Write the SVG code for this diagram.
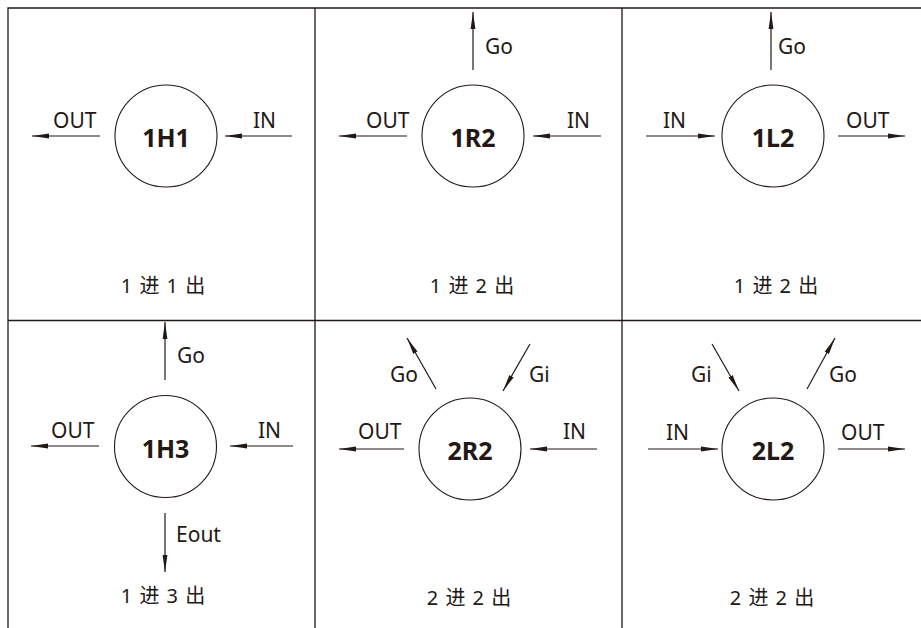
<svg xmlns="http://www.w3.org/2000/svg" width="921" height="628" viewBox="0 0 921 628">
<defs>
<marker id="ah" viewBox="0 0 17 6" refX="17" refY="3" markerWidth="17" markerHeight="6" markerUnits="userSpaceOnUse" orient="auto">
<path d="M0,0.6 L17,3 L0,5.4 z" fill="#231815"/>
</marker>
<style>
.grid{stroke:#231815;stroke-width:1.3;fill:none}
.node{fill:none;stroke:#231815;stroke-width:1.1}
.arr{stroke:#231815;stroke-width:1.2;fill:none;marker-end:url(#ah)}
.lbl{font-family:"Noto Sans","Open Sans",sans-serif;font-size:21px;fill:#231815}
.nm{font-family:"Noto Sans","Open Sans",sans-serif;font-size:25px;font-weight:bold;fill:#231815;text-anchor:middle}
.cap{font-family:"Noto Sans","Noto Sans CJK SC",sans-serif;font-size:20px;fill:#231815;text-anchor:middle;word-spacing:2px}
</style>
</defs>
<rect width="921" height="628" fill="#fff"/>
<g id="grid">
<path class="grid" d="M8,628 V8 H921 M315,8 V628 M622,8 V628 M8,320.5 H921"/>
</g>
<g id="n1H1">
<circle class="node" cx="166" cy="136" r="51"/>
<text class="nm" x="166" y="147">1H1</text>
<text class="cap" x="163" y="293">1 <tspan font-family="Noto Sans CJK SC">进</tspan> 1 <tspan font-family="Noto Sans CJK SC">出</tspan></text>
</g>
<g id="n1R2">
<circle class="node" cx="473" cy="136" r="51"/>
<text class="nm" x="473" y="147">1R2</text>
<text class="cap" x="472" y="293">1 <tspan font-family="Noto Sans CJK SC">进</tspan> 2 <tspan font-family="Noto Sans CJK SC">出</tspan></text>
</g>
<g id="n1L2">
<circle class="node" cx="773" cy="136" r="51"/>
<text class="nm" x="773" y="147">1L2</text>
<text class="cap" x="776" y="293">1 <tspan font-family="Noto Sans CJK SC">进</tspan> 2 <tspan font-family="Noto Sans CJK SC">出</tspan></text>
</g>
<g id="n1H3">
<circle class="node" cx="165.5" cy="446.5" r="51"/>
<text class="nm" x="165.5" y="457.5">1H3</text>
<text class="cap" x="163" y="603">1 <tspan font-family="Noto Sans CJK SC">进</tspan> 3 <tspan font-family="Noto Sans CJK SC">出</tspan></text>
</g>
<g id="n2R2">
<circle class="node" cx="470" cy="449" r="51"/>
<text class="nm" x="470" y="460">2R2</text>
<text class="cap" x="469" y="605">2 <tspan font-family="Noto Sans CJK SC">进</tspan> 2 <tspan font-family="Noto Sans CJK SC">出</tspan></text>
</g>
<g id="n2L2">
<circle class="node" cx="773" cy="449" r="51"/>
<text class="nm" x="773" y="460">2L2</text>
<text class="cap" x="772" y="605">2 <tspan font-family="Noto Sans CJK SC">进</tspan> 2 <tspan font-family="Noto Sans CJK SC">出</tspan></text>
</g>
<g id="connectors">
<line class="arr" x1="100" y1="136" x2="32" y2="136"/>
<line class="arr" x1="292" y1="136" x2="225" y2="136"/>
<line class="arr" x1="407" y1="136" x2="339" y2="136"/>
<line class="arr" x1="601" y1="136" x2="533" y2="136"/>
<line class="arr" x1="473" y1="70" x2="473" y2="12"/>
<line class="arr" x1="646" y1="136" x2="715" y2="136"/>
<line class="arr" x1="838" y1="136" x2="905" y2="136"/>
<line class="arr" x1="771" y1="70" x2="771" y2="12"/>
<line class="arr" x1="99" y1="446" x2="31" y2="446"/>
<line class="arr" x1="293" y1="446" x2="230" y2="446"/>
<line class="arr" x1="165" y1="380" x2="165" y2="322"/>
<line class="arr" x1="165" y1="513" x2="165" y2="572"/>
<line class="arr" x1="404" y1="449" x2="339" y2="449"/>
<line class="arr" x1="597" y1="449" x2="530" y2="449"/>
<line class="arr" x1="436" y1="389" x2="407" y2="338"/>
<line class="arr" x1="530" y1="344" x2="503" y2="391"/>
<line class="arr" x1="648" y1="449" x2="718" y2="449"/>
<line class="arr" x1="838" y1="449" x2="905" y2="449"/>
<line class="arr" x1="712" y1="344" x2="739" y2="391"/>
<line class="arr" x1="807" y1="389" x2="835" y2="338"/>
</g>
<g id="labels">
<text class="lbl" x="53" y="128">OUT</text>
<text class="lbl" x="253" y="128">IN</text>
<text class="lbl" x="366" y="128">OUT</text>
<text class="lbl" x="567" y="128">IN</text>
<text class="lbl" x="485" y="54">Go</text>
<text class="lbl" x="663" y="128">IN</text>
<text class="lbl" x="846" y="128">OUT</text>
<text class="lbl" x="778" y="54">Go</text>
<text class="lbl" x="51" y="438">OUT</text>
<text class="lbl" x="258" y="438">IN</text>
<text class="lbl" x="177" y="363">Go</text>
<text class="lbl" x="176" y="542">Eout</text>
<text class="lbl" x="358" y="439">OUT</text>
<text class="lbl" x="563" y="439">IN</text>
<text class="lbl" x="390" y="382">Go</text>
<text class="lbl" x="529" y="382">Gi</text>
<text class="lbl" x="666" y="440">IN</text>
<text class="lbl" x="841" y="440">OUT</text>
<text class="lbl" x="691" y="382">Gi</text>
<text class="lbl" x="829" y="382">Go</text>
</g>
</svg>
